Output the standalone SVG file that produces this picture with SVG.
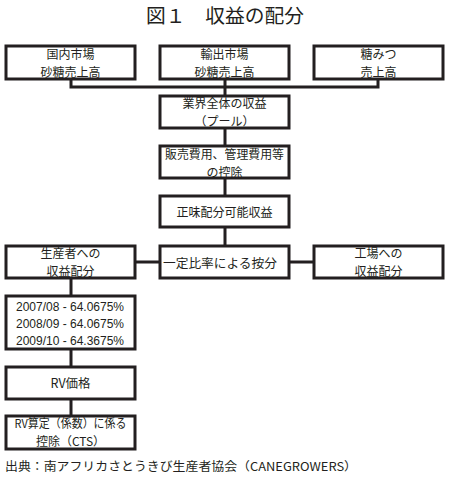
<svg xmlns="http://www.w3.org/2000/svg" width="449" height="479" viewBox="0 0 449 479">
<style>
.b{fill:#fff;stroke:#231f20;stroke-width:3}
.t{font-family:"Noto Sans CJK JP","Liberation Sans",sans-serif;font-size:12.5px;fill:#231f20;text-anchor:middle}
.s{font-size:12px}
.n{font-family:"Liberation Sans","Noto Sans CJK JP",sans-serif;font-size:12px;fill:#231f20;text-anchor:middle}
.c{stroke:#231f20;stroke-width:3;fill:none}
</style>
<rect width="449" height="479" fill="#fff"/>
<text x="146" y="23" font-family="'Noto Sans CJK JP',sans-serif" font-size="19" fill="#231f20" textLength="158" lengthAdjust="spacingAndGlyphs">図１　収益の配分</text>
<g id="connectors">
<path class="c" d="M71 80V87H378V80M225 80V95M225 129V145M225 179V195M225 228V245M136 262H159M290 262H313M71 279V295M71 350V366M71 400V415"/>
</g>
<g id="n1"><rect class="b" x="6" y="46" width="129" height="33"/><text class="t s" x="70.5" y="59">国内市場</text><text class="t s" x="70.5" y="77">砂糖売上高</text></g>
<g id="n2"><rect class="b" x="160" y="46" width="129" height="33"/><text class="t s" x="224.5" y="59">輸出市場</text><text class="t s" x="224.5" y="77">砂糖売上高</text></g>
<g id="n3"><rect class="b" x="314" y="46" width="129" height="33"/><text class="t s" x="378.5" y="59">糖みつ</text><text class="t s" x="378.5" y="77">売上高</text></g>
<g id="n4"><rect class="b" x="160" y="96" width="129" height="32"/><text class="t s" x="224.5" y="108">業界全体の収益</text><text class="t s" x="224.5" y="126">（プール）</text></g>
<g id="n5"><rect class="b" x="160" y="146" width="129" height="32"/><text class="t s" x="224.5" y="159" textLength="119" lengthAdjust="spacingAndGlyphs">販売費用、管理費用等</text><text class="t s" x="224.5" y="177">の控除</text></g>
<g id="n6"><rect class="b" x="160" y="196" width="129" height="31"/><text class="t" x="224.5" y="217" textLength="96" lengthAdjust="spacingAndGlyphs">正味配分可能収益</text></g>
<g id="n7"><rect class="b" x="160" y="246" width="129" height="32"/><text class="t" x="220" y="268" textLength="114" lengthAdjust="spacingAndGlyphs">一定比率による按分</text></g>
<g id="n8"><rect class="b" x="6" y="246" width="129" height="32"/><text class="t s" x="70.5" y="258">生産者への</text><text class="t s" x="70.5" y="276">収益配分</text></g>
<g id="n9"><rect class="b" x="314" y="246" width="129" height="32"/><text class="t s" x="378.5" y="258">工場への</text><text class="t s" x="378.5" y="276">収益配分</text></g>
<g id="n10"><rect class="b" x="6" y="296" width="129" height="53"/><text class="n" x="70" y="311">2007/08 - 64.0675%</text><text class="n" x="70" y="328">2008/09 - 64.0675%</text><text class="n" x="70" y="345">2009/10 - 64.3675%</text></g>
<g id="n11"><rect class="b" x="6" y="367" width="129" height="32"/><text class="t" x="70.5" y="388">RV価格</text></g>
<g id="n12"><rect class="b" x="6" y="416" width="129" height="33"/><text class="t s" x="70.5" y="428" textLength="112" lengthAdjust="spacingAndGlyphs">RV算定（係数）に係る</text><text class="t s" x="70.5" y="446">控除（CTS）</text></g>
<text x="5" y="471" font-family="'Noto Sans CJK JP',sans-serif" font-size="12" fill="#231f20" textLength="352" lengthAdjust="spacingAndGlyphs">出典：南アフリカさとうきび生産者協会（CANEGROWERS）</text>
</svg>
